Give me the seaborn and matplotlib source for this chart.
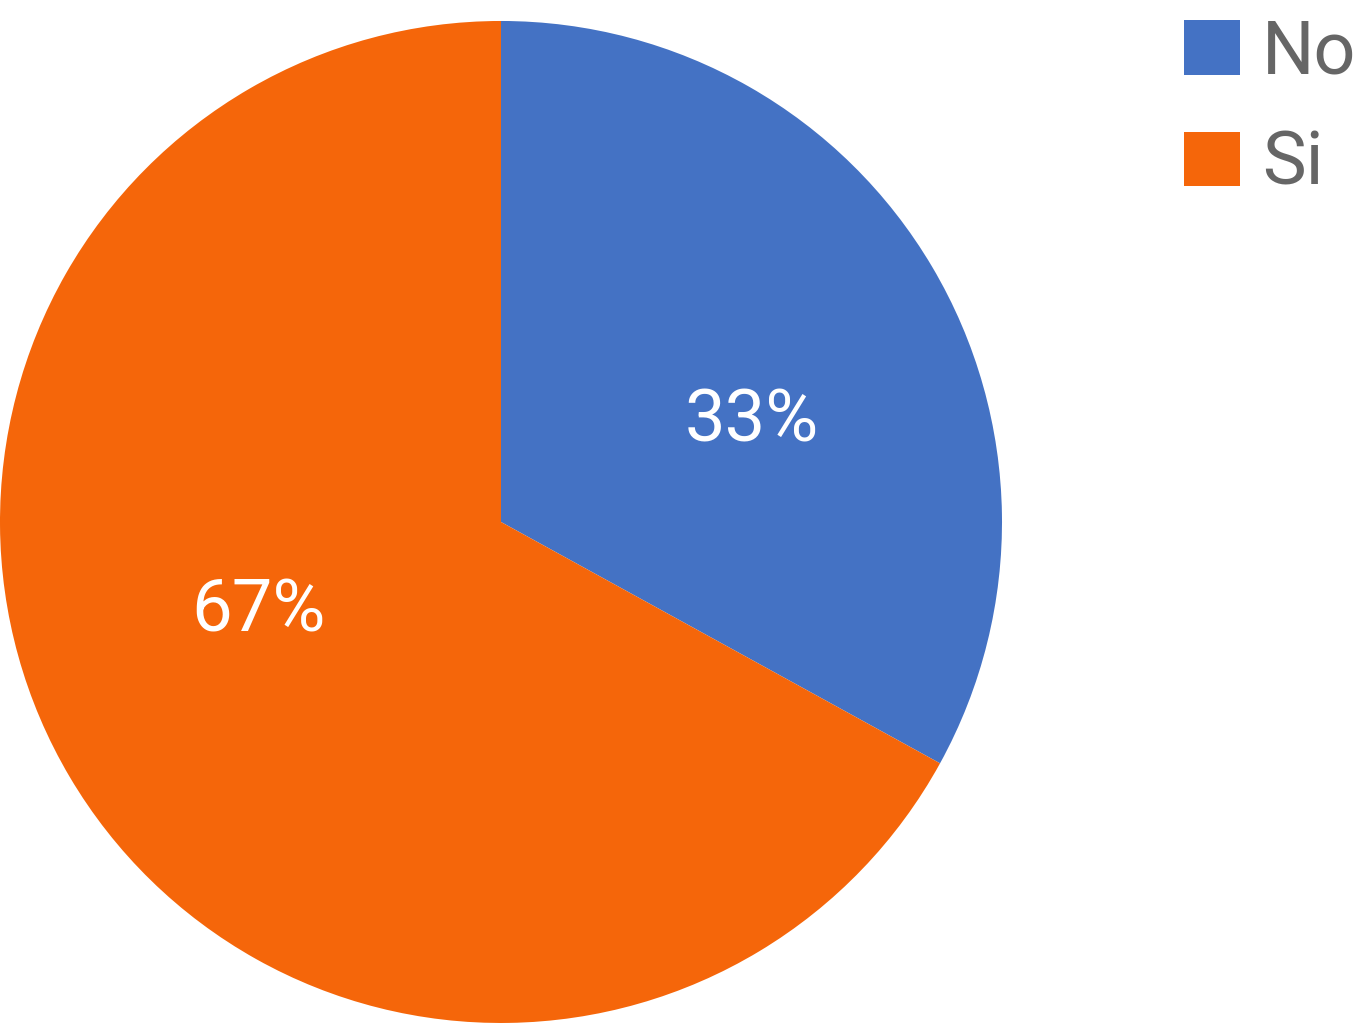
import matplotlib.pyplot as plt
from matplotlib.patches import Patch
import seaborn as sns

# answers and their share
labels = ['No', 'Si']
values = [33, 67]
colors = ['#4472C4', '#F5660A']

sns.set_style("white")
plt.rcParams['font.family'] = ['Roboto', 'DejaVu Sans']

fig = plt.figure(figsize=(13.68, 10.24), dpi=100)
ax = fig.add_axes([0, 0.001, 1002 / 1368, 1002 / 1024])

wedges, texts, autotexts = ax.pie(values, colors=colors, startangle=90, counterclock=False,
                                  autopct='%1.0f%%', pctdistance=0.54,
                                  wedgeprops={'linewidth': 0},
                                  textprops={'color': 'white', 'fontsize': 52})
# percent labels sit a bit off the wedge middle, as in the original
autotexts[0].set_position((0.50, 0.20))
autotexts[1].set_position((-0.485, -0.18))

ax.set_xlim(-1, 1)
ax.set_ylim(-1, 1)
ax.set_aspect('equal')
ax.axis('off')

handles = [Patch(facecolor=c, edgecolor='none') for c in colors]
leg = fig.legend(handles, labels, loc='upper left', bbox_to_anchor=(1184 / 1368, 1 - 17 / 1024),
                 frameon=False, fontsize=53,
                 handlelength=0.76, handleheight=0.76,
                 handletextpad=0.3, labelspacing=0.55, borderaxespad=0, borderpad=0)
for t in leg.get_texts():
    t.set_color('#666666')

plt.savefig('out.png', dpi=100)
